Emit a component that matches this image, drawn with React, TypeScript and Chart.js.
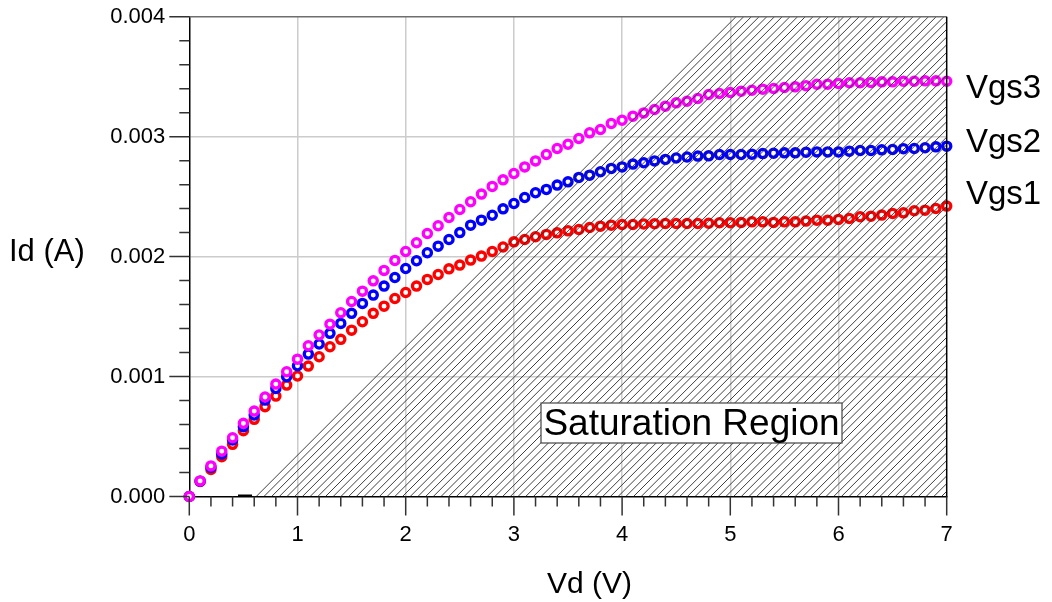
import React, { useEffect, useRef } from "react";
import { Chart, registerables } from "chart.js";

Chart.register(...registerables);

const FONT = "'Liberation Sans', Arial, Helvetica, sans-serif";

// Drain voltage samples (V)
const vd = [
  0.0, 0.1, 0.2, 0.3, 0.4, 0.5, 0.6, 0.7, 0.8, 0.9,
  1.0, 1.1, 1.2, 1.3, 1.4, 1.5, 1.6, 1.7, 1.8, 1.9,
  2.0, 2.1, 2.2, 2.3, 2.4, 2.5, 2.6, 2.7, 2.8, 2.9,
  3.0, 3.1, 3.2, 3.3, 3.4, 3.5, 3.6, 3.7, 3.8, 3.9,
  4.0, 4.1, 4.2, 4.3, 4.4, 4.5, 4.6, 4.7, 4.8, 4.9,
  5.0, 5.1, 5.2, 5.3, 5.4, 5.5, 5.6, 5.7, 5.8, 5.9,
  6.0, 6.1, 6.2, 6.3, 6.4, 6.5, 6.6, 6.7, 6.8, 6.9,
  7.0,
];

// Drain current (mA) for each gate voltage
const idVgs3_mA = [
  0, 0.13, 0.255, 0.378, 0.49, 0.61, 0.712, 0.83, 0.937, 1.04,
  1.145, 1.257, 1.346, 1.437, 1.532, 1.626, 1.712, 1.798, 1.885, 1.968,
  2.043, 2.115, 2.193, 2.257, 2.326, 2.393, 2.457, 2.521, 2.585, 2.64,
  2.693, 2.748, 2.798, 2.851, 2.901, 2.937, 2.985, 3.032, 3.06, 3.11,
  3.137, 3.171, 3.198, 3.226, 3.254, 3.282, 3.295, 3.318, 3.351, 3.36,
  3.368, 3.379, 3.387, 3.396, 3.401, 3.41, 3.415, 3.425, 3.437, 3.437,
  3.443, 3.449, 3.449, 3.451, 3.457, 3.457, 3.462, 3.462, 3.465, 3.465,
  3.462,
];

const idVgs2_mA = [
  0, 0.128, 0.243, 0.354, 0.471, 0.582, 0.679, 0.804, 0.901, 0.998,
  1.09, 1.187, 1.271, 1.36, 1.443, 1.527, 1.61, 1.679, 1.754, 1.826,
  1.901, 1.965, 2.032, 2.087, 2.143, 2.2, 2.262, 2.304, 2.345, 2.398,
  2.443, 2.493, 2.532, 2.56, 2.596, 2.623, 2.66, 2.679, 2.707, 2.735,
  2.748, 2.771, 2.782, 2.798, 2.81, 2.822, 2.83, 2.838, 2.84, 2.851,
  2.851, 2.851, 2.854, 2.859, 2.862, 2.865, 2.865, 2.87, 2.873, 2.873,
  2.873, 2.879, 2.885, 2.885, 2.89, 2.893, 2.9, 2.901, 2.907, 2.915,
  2.921,
];

const idVgs1_mA = [
  0, 0.125, 0.226, 0.332, 0.435, 0.549, 0.643, 0.749, 0.837, 0.929,
  1.005, 1.087, 1.165, 1.248, 1.31, 1.387, 1.457, 1.527, 1.587, 1.651,
  1.701, 1.754, 1.81, 1.851, 1.898, 1.929, 1.971, 2.004, 2.043, 2.08,
  2.123, 2.143, 2.165, 2.185, 2.198, 2.215, 2.226, 2.243, 2.254, 2.262,
  2.268, 2.268, 2.272, 2.274, 2.276, 2.276, 2.276, 2.276, 2.278, 2.282,
  2.282, 2.285, 2.29, 2.29, 2.285, 2.29, 2.29, 2.296, 2.304, 2.304,
  2.31, 2.318, 2.332, 2.337, 2.346, 2.36, 2.365, 2.382, 2.387, 2.401,
  2.421,
];

const seriesLabels = ["Vgs3", "Vgs2", "Vgs1"];
const seriesColors = ["#ff00ff", "#0000ff", "#ff0000"];

// Saturation boundary (Vd, Id) and the short segment at the origin side
const satBoundaryVd = [0.6, 5.0];
const satBoundaryId = [0, 0.004];
const baseSegmentVd = [0.45, 0.58];

const xTickLabels = ["0", "1", "2", "3", "4", "5", "6", "7"];
const yTickLabels = ["0.000", "0.001", "0.002", "0.003", "0.004"];

const X_MIN = 0, X_MAX = 7;
const Y_MIN = 0, Y_MAX = 0.004;

const toPoints = (ys: number[]) => vd.map((v, i) => ({ x: v, y: ys[i] / 1000 }));

const isMajor = (v: number, step: number) => Math.abs(v / step - Math.round(v / step)) < 1e-6;

const decorPlugin = {
  id: "decor",
  afterDatasetsDraw(chart: any) {
    const { ctx, chartArea } = chart;
    const xs = chart.scales.x;
    const ys = chart.scales.y;
    const { left, right, top, bottom } = chartArea;

    // hatched saturation region (drawn above the markers)
    ctx.save();
    ctx.beginPath();
    ctx.moveTo(xs.getPixelForValue(satBoundaryVd[0]), ys.getPixelForValue(satBoundaryId[0]));
    ctx.lineTo(xs.getPixelForValue(satBoundaryVd[1]), ys.getPixelForValue(satBoundaryId[1]));
    ctx.lineTo(xs.getPixelForValue(X_MAX), ys.getPixelForValue(Y_MAX));
    ctx.lineTo(xs.getPixelForValue(X_MAX), ys.getPixelForValue(Y_MIN));
    ctx.closePath();
    ctx.clip();
    ctx.strokeStyle = "#2a2a2a";
    ctx.lineWidth = 0.9;
    const h = bottom - top;
    ctx.beginPath();
    for (let c = left - h; c < right + h; c += 7.7) {
      ctx.moveTo(c, bottom);
      ctx.lineTo(c + h, top);
    }
    ctx.stroke();
    ctx.restore();

    ctx.save();
    // short segment on the baseline
    ctx.strokeStyle = "#000";
    ctx.lineWidth = 2;
    ctx.beginPath();
    ctx.moveTo(xs.getPixelForValue(baseSegmentVd[0]), bottom - 1);
    ctx.lineTo(xs.getPixelForValue(baseSegmentVd[1]), bottom - 1);
    ctx.stroke();

    // frame: top (grey) and right (black)
    ctx.strokeStyle = "#6e6e6e";
    ctx.lineWidth = 1.5;
    ctx.beginPath();
    ctx.moveTo(left, top);
    ctx.lineTo(right, top);
    ctx.stroke();
    ctx.strokeStyle = "#000";
    ctx.beginPath();
    ctx.moveTo(right, top);
    ctx.lineTo(right, bottom);
    ctx.stroke();

    // ticks (major long, minor short)
    ctx.strokeStyle = "#333";
    ctx.lineWidth = 1.5;
    ctx.beginPath();
    ys.ticks.forEach((t: any) => {
      const py = ys.getPixelForValue(t.value);
      const len = isMajor(t.value, 0.001) ? 20 : 10;
      ctx.moveTo(left - len, py);
      ctx.lineTo(left, py);
    });
    xs.ticks.forEach((t: any) => {
      const px = xs.getPixelForValue(t.value);
      const len = isMajor(t.value, 1) ? 19 : 10;
      ctx.moveTo(px, bottom);
      ctx.lineTo(px, bottom + len);
    });
    ctx.stroke();

    // Saturation Region box
    const bx = 541, by = 403, bw = 301, bh = 40;
    ctx.fillStyle = "#ffffff";
    ctx.fillRect(bx, by, bw, bh);
    ctx.strokeStyle = "#444";
    ctx.lineWidth = 1.2;
    ctx.strokeRect(bx, by, bw, bh);
    ctx.fillStyle = "#000";
    ctx.font = `37px ${FONT}`;
    ctx.textAlign = "center";
    ctx.textBaseline = "alphabetic";
    ctx.fillText("Saturation Region", bx + bw / 2, 435);

    // axis titles
    ctx.font = `31px ${FONT}`;
    ctx.textAlign = "left";
    ctx.fillText("Id (A)", 9, 261);
    ctx.font = `30px ${FONT}`;
    ctx.fillText("Vd (V)", 547, 593);

    // series labels
    ctx.font = `33px ${FONT}`;
    const labelBaselines = [98, 152, 204];
    seriesLabels.forEach((s, i) => ctx.fillText(s, 966, labelBaselines[i]));
    ctx.restore();
  },
};

export default function App() {
  const ref = useRef<HTMLCanvasElement | null>(null);

  useEffect(() => {
    document.body.style.margin = "0";
    const canvas = ref.current!;
    const seriesData = [idVgs3_mA, idVgs2_mA, idVgs1_mA];
    const chart = new Chart(canvas, {
      type: "scatter",
      data: {
        datasets: seriesData.map((d, i) => ({
          label: seriesLabels[i],
          data: toPoints(d),
          showLine: false,
          clip: false,
          pointStyle: "circle",
          pointRadius: 4.1,
          pointHoverRadius: 4.1,
          borderWidth: 3.3,
          borderColor: seriesColors[i],
          backgroundColor: "#ffffff",
        })),
      },
      options: {
        animation: false,
        responsive: false,
        events: [],
        layout: { padding: { top: 16.7, right: 105.3, left: 0, bottom: 0 } },
        plugins: {
          legend: { display: false },
          tooltip: { enabled: false },
          title: { display: false },
        },
        scales: {
          x: {
            type: "linear",
            min: X_MIN,
            max: X_MAX,
            afterFit: (s: any) => { s.height = 105.5; s.paddingLeft = 0; s.paddingRight = 0; },
            border: { display: true, color: "#000", width: 1.5 },
            grid: {
              drawTicks: false,
              lineWidth: 1.5,
              color: (c: any) => {
                const v = c.tick ? c.tick.value : 0;
                return isMajor(v, 1) && v > X_MIN && v < X_MAX ? "#cccccc" : "rgba(0,0,0,0)";
              },
            },
            ticks: {
              stepSize: 0.2,
              autoSkip: false,
              maxRotation: 0,
              padding: 25,
              color: "#000",
              font: { family: FONT, size: 22 },
              callback: (v: any) => (isMajor(Number(v), 1) ? xTickLabels[Math.round(Number(v))] : ""),
            },
          },
          y: {
            type: "linear",
            min: Y_MIN,
            max: Y_MAX,
            afterFit: (s: any) => { s.width = 189.3; s.paddingTop = 0; s.paddingBottom = 0; },
            border: { display: true, color: "#000", width: 1.5 },
            grid: {
              drawTicks: false,
              lineWidth: 1.5,
              color: (c: any) => {
                const v = c.tick ? c.tick.value : 0;
                return isMajor(v, 0.001) && v > Y_MIN + 1e-9 && v < Y_MAX - 1e-9 ? "#cccccc" : "rgba(0,0,0,0)";
              },
            },
            ticks: {
              stepSize: 0.0002,
              autoSkip: false,
              padding: 24,
              color: "#000",
              font: { family: FONT, size: 22 },
              callback: (v: any) => (isMajor(Number(v), 0.001) ? yTickLabels[Math.round(Number(v) / 0.001)] : ""),
            },
          },
        },
      },
      plugins: [decorPlugin],
    });
    return () => chart.destroy();
  }, []);

  return (
    <div style={{ position: "absolute", left: 0, top: 0, width: 1052, height: 602, background: "#fff" }}>
      <canvas ref={ref} width={1052} height={602} />
    </div>
  );
}
